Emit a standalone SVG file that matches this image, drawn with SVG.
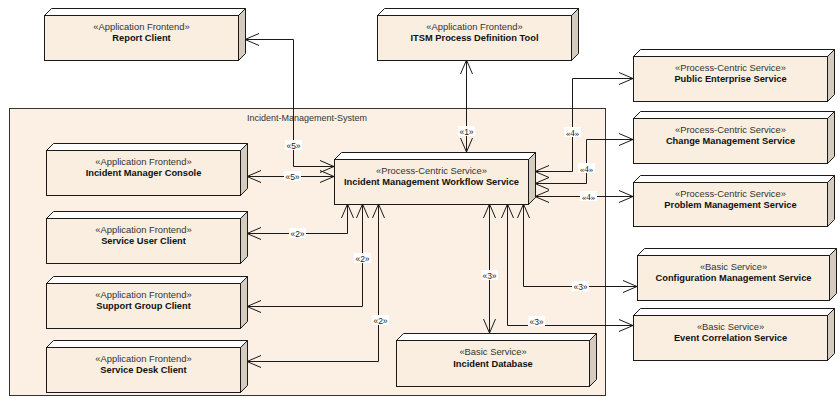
<svg xmlns="http://www.w3.org/2000/svg" width="840" height="398" viewBox="0 0 840 398">
  <style>
    .front { fill: #f9eee0; stroke: #1a1a1a; stroke-width: 1; }
    .top { fill: #ffffff; stroke: #1a1a1a; stroke-width: 1; }
    .side { fill: #d5ccbf; stroke: #1a1a1a; stroke-width: 1; }
    .stereo { font-family: "Liberation Sans", Arial, sans-serif; font-size: 9.4px; fill: #333333; text-anchor: middle; }
    .name { font-family: "Liberation Sans", Arial, sans-serif; font-size: 9.3px; font-weight: bold; fill: #111111; text-anchor: middle; }
    .conn { fill: none; stroke: #1a1a1a; stroke-width: 1; marker-start: url(#open); marker-end: url(#open); }
    .lblbg { fill: #ffffff; }
    .lbl { font-family: "Liberation Sans", Arial, sans-serif; font-size: 8.5px; fill: #222222; text-anchor: middle; }
    .lbls { font-family: "Liberation Serif", "Times New Roman", serif; font-size: 9px; fill: #222222; text-anchor: middle; }
    .sys { font-family: "Liberation Sans", Arial, sans-serif; font-size: 9px; fill: #333333; text-anchor: middle; }
  </style>
  <defs>
    <marker id="open" viewBox="0 0 16 14" refX="15" refY="7" markerWidth="16" markerHeight="14" markerUnits="userSpaceOnUse" orient="auto-start-reverse">
      <path d="M1,1 L15,7 L1,13" fill="none" stroke="#1a1a1a" stroke-width="1"/>
    </marker>
  </defs>

  <rect width="840" height="398" fill="#ffffff"/>

  <!-- system boundary -->
  <g id="incident-management-system">
    <rect x="9.5" y="108.5" width="596" height="287" fill="#fbf0e3" stroke="#333333" stroke-width="1"/>
    <text class="sys" x="307" y="121">Incident-Management-System</text>
  </g>

  <!-- nodes: front face, top face, side face (depth 7) -->
  <g id="report-client">
    <polygon class="top" points="44.5,15.5 51.5,8.5 245.5,8.5 238.5,15.5"/>
    <polygon class="side" points="238.5,15.5 245.5,8.5 245.5,53.5 238.5,60.5"/>
    <rect class="front" x="44.5" y="15.5" width="194" height="45"/>
    <text class="stereo" x="141.5" y="29.5">«Application Frontend»</text>
    <text class="name" x="141.5" y="40.5">Report Client</text>
  </g>

  <g id="itsm-process-definition-tool">
    <polygon class="top" points="377.5,15.5 384.5,8.5 578.5,8.5 571.5,15.5"/>
    <polygon class="side" points="571.5,15.5 578.5,8.5 578.5,53.5 571.5,60.5"/>
    <rect class="front" x="377.5" y="15.5" width="194" height="45"/>
    <text class="stereo" x="474.5" y="29.5">«Application Frontend»</text>
    <text class="name" x="474.5" y="40.5">ITSM Process Definition Tool</text>
  </g>

  <g id="public-enterprise-service">
    <polygon class="top" points="633.5,56.5 640.5,49.5 834.5,49.5 827.5,56.5"/>
    <polygon class="side" points="827.5,56.5 834.5,49.5 834.5,94.5 827.5,101.5"/>
    <rect class="front" x="633.5" y="56.5" width="194" height="45"/>
    <text class="stereo" x="730.5" y="70.5">«Process-Centric Service»</text>
    <text class="name" x="730.5" y="81.5">Public Enterprise Service</text>
  </g>

  <g id="change-management-service">
    <polygon class="top" points="633.5,118.5 640.5,111.5 834.5,111.5 827.5,118.5"/>
    <polygon class="side" points="827.5,118.5 834.5,111.5 834.5,156.5 827.5,163.5"/>
    <rect class="front" x="633.5" y="118.5" width="194" height="45"/>
    <text class="stereo" x="730.5" y="132.5">«Process-Centric Service»</text>
    <text class="name" x="730.5" y="143.5">Change Management Service</text>
  </g>

  <g id="problem-management-service">
    <polygon class="top" points="633.5,182.5 640.5,175.5 834.5,175.5 827.5,182.5"/>
    <polygon class="side" points="827.5,182.5 834.5,175.5 834.5,219.5 827.5,226.5"/>
    <rect class="front" x="633.5" y="182.5" width="194" height="44"/>
    <text class="stereo" x="730.5" y="196.5">«Process-Centric Service»</text>
    <text class="name" x="730.5" y="207.5">Problem Management Service</text>
  </g>

  <g id="configuration-management-service">
    <polygon class="top" points="637.5,255.5 644.5,248.5 836.5,248.5 829.5,255.5"/>
    <polygon class="side" points="829.5,255.5 836.5,248.5 836.5,293.5 829.5,300.5"/>
    <rect class="front" x="637.5" y="255.5" width="192" height="45"/>
    <text class="stereo" x="733.5" y="269.5">«Basic Service»</text>
    <text class="name" x="733.5" y="280.5">Configuration Management Service</text>
  </g>

  <g id="event-correlation-service">
    <polygon class="top" points="633.5,315.5 640.5,308.5 834.5,308.5 827.5,315.5"/>
    <polygon class="side" points="827.5,315.5 834.5,308.5 834.5,353.5 827.5,360.5"/>
    <rect class="front" x="633.5" y="315.5" width="194" height="45"/>
    <text class="stereo" x="730.5" y="329.5">«Basic Service»</text>
    <text class="name" x="730.5" y="340.5">Event Correlation Service</text>
  </g>

  <g id="incident-manager-console">
    <polygon class="top" points="46.5,150.5 53.5,143.5 247.5,143.5 240.5,150.5"/>
    <polygon class="side" points="240.5,150.5 247.5,143.5 247.5,188.5 240.5,195.5"/>
    <rect class="front" x="46.5" y="150.5" width="194" height="45"/>
    <text class="stereo" x="143.5" y="164.5">«Application Frontend»</text>
    <text class="name" x="143.5" y="175.5">Incident Manager Console</text>
  </g>

  <g id="service-user-client">
    <polygon class="top" points="46.5,218.5 53.5,211.5 247.5,211.5 240.5,218.5"/>
    <polygon class="side" points="240.5,218.5 247.5,211.5 247.5,256.5 240.5,263.5"/>
    <rect class="front" x="46.5" y="218.5" width="194" height="45"/>
    <text class="stereo" x="143.5" y="232.5">«Application Frontend»</text>
    <text class="name" x="143.5" y="243.5">Service User Client</text>
  </g>

  <g id="support-group-client">
    <polygon class="top" points="46.5,283.5 53.5,276.5 247.5,276.5 240.5,283.5"/>
    <polygon class="side" points="240.5,283.5 247.5,276.5 247.5,321.5 240.5,328.5"/>
    <rect class="front" x="46.5" y="283.5" width="194" height="45"/>
    <text class="stereo" x="143.5" y="297.5">«Application Frontend»</text>
    <text class="name" x="143.5" y="308.5">Support Group Client</text>
  </g>

  <g id="service-desk-client">
    <polygon class="top" points="46.5,347.5 53.5,340.5 247.5,340.5 240.5,347.5"/>
    <polygon class="side" points="240.5,347.5 247.5,340.5 247.5,385.5 240.5,392.5"/>
    <rect class="front" x="46.5" y="347.5" width="194" height="45"/>
    <text class="stereo" x="143.5" y="361.5">«Application Frontend»</text>
    <text class="name" x="143.5" y="372.5">Service Desk Client</text>
  </g>

  <g id="incident-management-workflow-service">
    <polygon class="top" points="334.5,159.5 341.5,152.5 535.5,152.5 528.5,159.5"/>
    <polygon class="side" points="528.5,159.5 535.5,152.5 535.5,197.5 528.5,204.5"/>
    <rect class="front" x="334.5" y="159.5" width="194" height="45"/>
    <text class="stereo" x="431.5" y="173.5">«Process-Centric Service»</text>
    <text class="name" x="431.5" y="185">Incident Management Workflow Service</text>
  </g>

  <g id="incident-database">
    <polygon class="top" points="396.5,340.5 403.5,333.5 596.5,333.5 589.5,340.5"/>
    <polygon class="side" points="589.5,340.5 596.5,333.5 596.5,379.5 589.5,386.5"/>
    <rect class="front" x="396.5" y="340.5" width="193" height="46"/>
    <text class="stereo" x="493" y="355">«Basic Service»</text>
    <text class="name" x="493" y="366.5">Incident Database</text>
  </g>

  <!-- connectors -->
  <g id="connectors">
    <path class="conn" d="M334,166.5 H293.5 V39.5 H245"/>
    <path class="conn" d="M334,176.5 H247"/>
    <path class="conn" d="M466.5,152 V60"/>
    <path class="conn" d="M535,171.5 H572.5 V78.5 H633"/>
    <path class="conn" d="M535,183.5 H586.5 V139.5 H633"/>
    <path class="conn" d="M535,196.5 H633"/>
    <path class="conn" d="M347.5,204 V233.5 H247"/>
    <path class="conn" d="M362.5,204 V306.5 H247"/>
    <path class="conn" d="M378.5,204 V361.5 H247"/>
    <path class="conn" d="M489.5,204 V333"/>
    <path class="conn" d="M507.5,204 V325.5 H633"/>
    <path class="conn" d="M523.5,204 V286.5 H637"/>

    <!-- connector labels -->
    <rect class="lblbg" x="285" y="140" width="17" height="10"/>
    <text class="lbl" x="293.5" y="148.5">«5»</text>
    <rect class="lblbg" x="284" y="171" width="17" height="10"/>
    <text class="lbl" x="292.5" y="179.5">«5»</text>
    <rect class="lblbg" x="458" y="126" width="17" height="10"/>
    <text class="lbl" x="466.5" y="134.5">«1»</text>
    <rect class="lblbg" x="564" y="127" width="17" height="10"/>
    <text class="lbls" x="572.5" y="135.5">«4»</text>
    <rect class="lblbg" x="578" y="163" width="17" height="10"/>
    <text class="lbls" x="586.5" y="171.5">«4»</text>
    <rect class="lblbg" x="580" y="191" width="17" height="10"/>
    <text class="lbls" x="588.5" y="199.5">«4»</text>
    <rect class="lblbg" x="289" y="228" width="17" height="10"/>
    <text class="lbl" x="297.5" y="236.5">«2»</text>
    <rect class="lblbg" x="354" y="253" width="17" height="10"/>
    <text class="lbl" x="362.5" y="261.5">«2»</text>
    <rect class="lblbg" x="372" y="315" width="17" height="10"/>
    <text class="lbl" x="380.5" y="323.5">«2»</text>
    <rect class="lblbg" x="481" y="270" width="17" height="10"/>
    <text class="lbl" x="489.5" y="278.5">«3»</text>
    <rect class="lblbg" x="528" y="316" width="17" height="10"/>
    <text class="lbl" x="536.5" y="324.5">«3»</text>
    <rect class="lblbg" x="572" y="281" width="17" height="10"/>
    <text class="lbl" x="580.5" y="289.5">«3»</text>
  </g>
</svg>
